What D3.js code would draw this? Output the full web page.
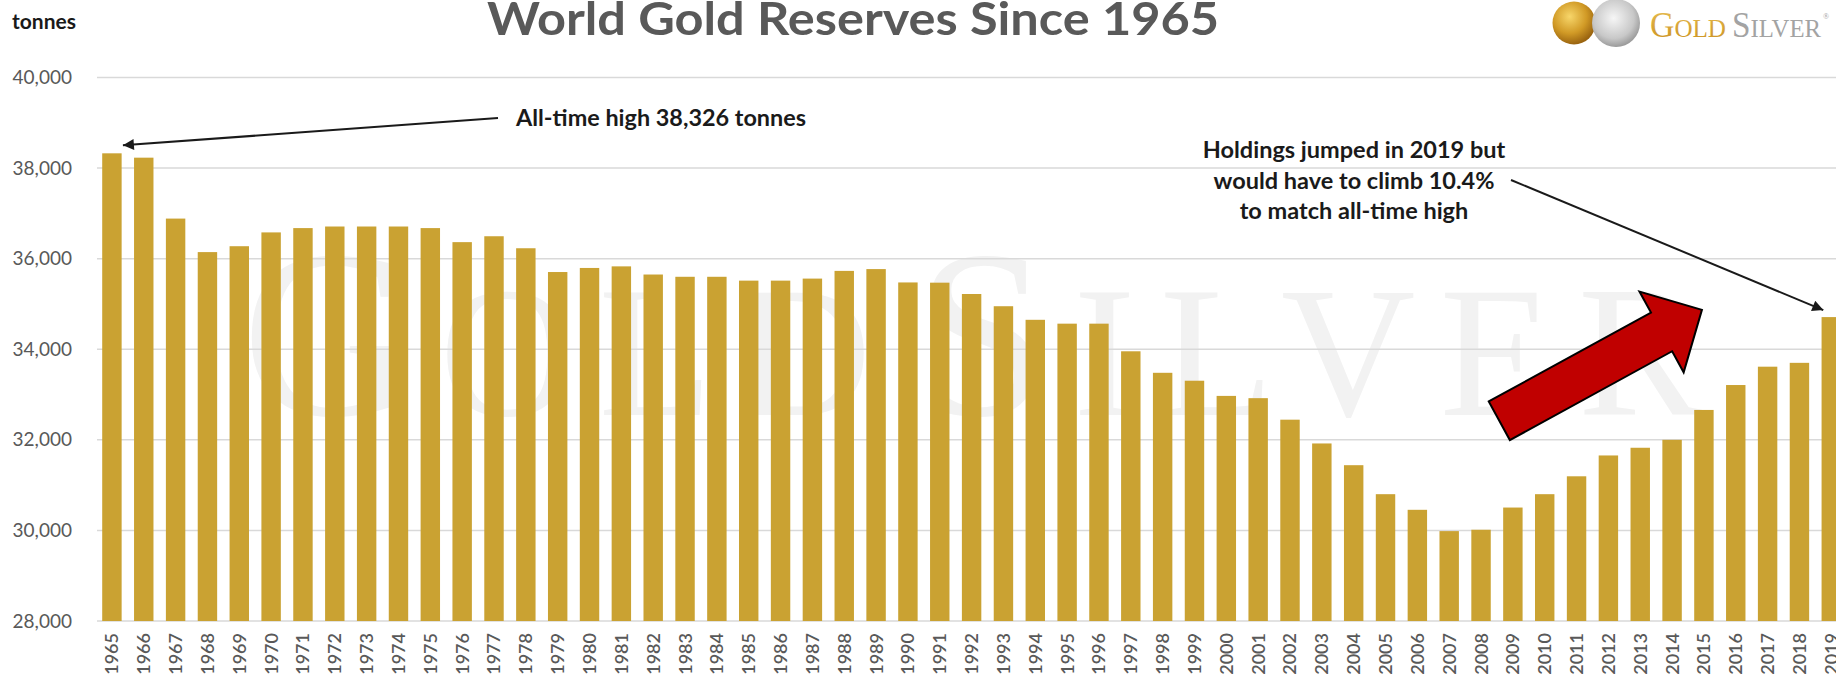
<!DOCTYPE html>
<html>
<head>
<meta charset="utf-8">
<script src="https://cdn.jsdelivr.net/npm/d3@7"></script>
<style>
  html, body { margin: 0; padding: 0; background: #fff; }
  svg { display: block; }
</style>
</head>
<body>
<svg width="1836" height="677"></svg>
<script>
const years = [1965, 1966, 1967, 1968, 1969, 1970, 1971, 1972, 1973, 1974,
  1975, 1976, 1977, 1978, 1979, 1980, 1981, 1982, 1983, 1984,
  1985, 1986, 1987, 1988, 1989, 1990, 1991, 1992, 1993, 1994,
  1995, 1996, 1997, 1998, 1999, 2000, 2001, 2002, 2003, 2004,
  2005, 2006, 2007, 2008, 2009, 2010, 2011, 2012, 2013, 2014,
  2015, 2016, 2017, 2018, 2019];

// tonnes
const reserves = [38326, 38230, 36885, 36145, 36275, 36580, 36675, 36710, 36710, 36710,
  36675, 36365, 36495, 36230, 35705, 35795, 35830, 35650, 35600, 35600,
  35515, 35515, 35560, 35730, 35770, 35475, 35470, 35220, 34950, 34650,
  34565, 34565, 33955, 33480, 33305, 32970, 32920, 32445, 31920, 31440,
  30800, 30455, 29985, 30015, 30505, 30800, 31195, 31655, 31825, 32000,
  32660, 33210, 33615, 33700, 34710];

const yTicks = [28000, 30000, 32000, 34000, 36000, 38000, 40000];

const svg = d3.select('svg');
const W = 1836;

const x = d3.scaleBand()
  .domain(years)
  .range([96, 96 + 55 * 31.84])
  .paddingInner(0.39)
  .paddingOuter(0.195);

const y = d3.scaleLinear().domain([28000, 40000]).range([621, 77.5]);
const xc = (yr) => x(yr) + x.bandwidth() / 2;

const defs = svg.append('defs');
defs.append('marker')
  .attr('id', 'head')
  .attr('viewBox', '0 0 10 10')
  .attr('refX', 10).attr('refY', 5)
  .attr('markerUnits', 'userSpaceOnUse')
  .attr('markerWidth', 14).attr('markerHeight', 11)
  .attr('orient', 'auto')
  .append('path').attr('d', 'M0,0L10,5L0,10z').attr('fill', '#1a1a1a');

const goldCoin = defs.append('radialGradient').attr('id', 'goldCoin')
  .attr('cx', '40%').attr('cy', '35%').attr('r', '65%');
goldCoin.append('stop').attr('offset', '0%').attr('stop-color', '#f7d66a');
goldCoin.append('stop').attr('offset', '60%').attr('stop-color', '#d19a26');
goldCoin.append('stop').attr('offset', '100%').attr('stop-color', '#9a6410');

const silverCoin = defs.append('radialGradient').attr('id', 'silverCoin')
  .attr('cx', '45%').attr('cy', '40%').attr('r', '65%');
silverCoin.append('stop').attr('offset', '0%').attr('stop-color', '#f6f6f6');
silverCoin.append('stop').attr('offset', '65%').attr('stop-color', '#c8c8c8');
silverCoin.append('stop').attr('offset', '100%').attr('stop-color', '#8e8e8e');

const goldText = defs.append('linearGradient').attr('id', 'goldText')
  .attr('x1', 0).attr('y1', 0).attr('x2', 0).attr('y2', 1);
goldText.append('stop').attr('offset', '0%').attr('stop-color', '#e8bf55');
goldText.append('stop').attr('offset', '100%').attr('stop-color', '#c98f1e');

// faint watermark behind the plot
const wm = svg.append('text')
  .attr('x', 242).attr('y', 415)
  .attr('font-family', '"Liberation Serif", "DejaVu Serif", serif')
  .attr('fill', '#f2f2f2')
  .attr('textLength', 1460)
  .attr('lengthAdjust', 'spacing');
wm.append('tspan').attr('font-size', 240).text('G');
wm.append('tspan').attr('font-size', 186).text('OLD');
wm.append('tspan').attr('font-size', 240).attr('dx', 20).text('S');
wm.append('tspan').attr('font-size', 186).text('ILVER');

// gridlines
svg.append('g')
  .selectAll('line')
  .data(yTicks)
  .join('line')
  .attr('x1', 97).attr('x2', W)
  .attr('y1', (d) => y(d)).attr('y2', (d) => y(d))
  .attr('stroke', '#d9d9d9')
  .attr('stroke-width', 1.5);

// y labels
svg.append('g')
  .selectAll('text')
  .data(yTicks)
  .join('text')
  .attr('x', 72)
  .attr('y', (d) => y(d))
  .attr('dy', '0.35em')
  .attr('text-anchor', 'end')
  .attr('font-family', 'Lato, "Open Sans", sans-serif')
  .attr('font-size', 19)
  .attr('fill', '#595959')
  .text(d3.format(','));

// bars
svg.append('g')
  .selectAll('rect')
  .data(years)
  .join('rect')
  .attr('x', (d) => x(d))
  .attr('width', x.bandwidth())
  .attr('y', (d, i) => y(reserves[i]))
  .attr('height', (d, i) => y(28000) - y(reserves[i]))
  .attr('fill', '#caa232');

// x labels
svg.append('g')
  .selectAll('text')
  .data(years)
  .join('text')
  .attr('transform', (d) => `translate(${xc(d)},633) rotate(-90)`)
  .attr('dy', '0.36em')
  .attr('text-anchor', 'end')
  .attr('font-family', 'Lato, "Open Sans", sans-serif')
  .attr('font-size', 18)
  .attr('font-weight', 600)
  .attr('fill', '#595959')
  .text((d) => d);

// title and unit
svg.append('text')
  .attr('x', 853).attr('y', 35)
  .attr('text-anchor', 'middle')
  .attr('font-family', 'Lato, "Open Sans", sans-serif')
  .attr('font-weight', 700)
  .attr('font-size', 46)
  .attr('fill', '#595959')
  .attr('textLength', 732)
  .attr('lengthAdjust', 'spacingAndGlyphs')
  .text('World Gold Reserves Since 1965');

svg.append('text')
  .attr('x', 12).attr('y', 29)
  .attr('font-family', 'Lato, "Open Sans", sans-serif')
  .attr('font-weight', 700)
  .attr('font-size', 21)
  .attr('fill', '#1a1a1a')
  .text('tonnes');

// logo
const logo = svg.append('g');
logo.append('circle').attr('cx', 1574).attr('cy', 23).attr('r', 21.5).attr('fill', 'url(#goldCoin)');
logo.append('circle').attr('cx', 1616).attr('cy', 23).attr('r', 24).attr('fill', 'url(#silverCoin)');
const lg = logo.append('text')
  .attr('x', 1650).attr('y', 37)
  .attr('font-family', '"Liberation Serif", "DejaVu Serif", serif')
  .attr('fill', 'url(#goldText)')
  .attr('textLength', 76)
  .attr('lengthAdjust', 'spacingAndGlyphs');
lg.append('tspan').attr('font-size', 35).text('G');
lg.append('tspan').attr('font-size', 26).text('OLD');
const ls = logo.append('text')
  .attr('x', 1732).attr('y', 37)
  .attr('font-family', '"Liberation Serif", "DejaVu Serif", serif')
  .attr('fill', '#a3a3a3')
  .attr('textLength', 89)
  .attr('lengthAdjust', 'spacingAndGlyphs');
ls.append('tspan').attr('font-size', 35).text('S');
ls.append('tspan').attr('font-size', 26).text('ILVER');
logo.append('text')
  .attr('x', 1823).attr('y', 19)
  .attr('font-family', '"Liberation Serif", serif')
  .attr('font-size', 8)
  .attr('fill', '#a3a3a3')
  .text('®');

// annotations
const note = svg.append('g')
  .attr('font-family', 'Lato, "Open Sans", sans-serif')
  .attr('font-weight', 700)
  .attr('font-size', 22)
  .attr('fill', '#1a1a1a');

note.append('text')
  .attr('x', 516).attr('y', 126)
  .attr('textLength', 290)
  .attr('lengthAdjust', 'spacingAndGlyphs')
  .text('All-time high 38,326 tonnes');

svg.append('line')
  .attr('x1', 498).attr('y1', 118)
  .attr('x2', xc(1965) + 11).attr('y2', y(reserves[0]) - 8)
  .attr('stroke', '#1a1a1a').attr('stroke-width', 2)
  .attr('marker-end', 'url(#head)');

const jumpLines = ['Holdings jumped in 2019 but', 'would have to climb 10.4%', 'to match all-time high'];
note.selectAll('.jump')
  .data(jumpLines)
  .join('text')
  .attr('class', 'jump')
  .attr('x', 1354)
  .attr('y', (d, i) => 158 + i * 30.5)
  .attr('text-anchor', 'middle')
  .attr('font-size', 23.5)
  .text((d) => d);

svg.append('line')
  .attr('x1', 1511).attr('y1', 180)
  .attr('x2', xc(2019) - 8).attr('y2', y(reserves[54]) - 7)
  .attr('stroke', '#1a1a1a').attr('stroke-width', 2)
  .attr('marker-end', 'url(#head)');

// red block arrow pointing up to the recent rise
const arrowLen = 231, headLen = 46, shaftHalf = 22, headHalf = 46, angle = -28.7;
const tip = [xc(2015) - 2, y(34870)];
const rad = angle * Math.PI / 180;
const tail = [tip[0] - arrowLen * Math.cos(rad), tip[1] - arrowLen * Math.sin(rad)];
const s = arrowLen - headLen;
const shape = [[0, -shaftHalf], [s, -shaftHalf], [s, -headHalf], [arrowLen, 0],
  [s, headHalf], [s, shaftHalf], [0, shaftHalf]];
svg.append('path')
  .attr('transform', `translate(${tail[0]},${tail[1]}) rotate(${angle})`)
  .attr('d', d3.line()(shape) + 'Z')
  .attr('fill', '#c00000')
  .attr('stroke', '#000')
  .attr('stroke-width', 2)
  .attr('stroke-linejoin', 'miter');
</script>
</body>
</html>
